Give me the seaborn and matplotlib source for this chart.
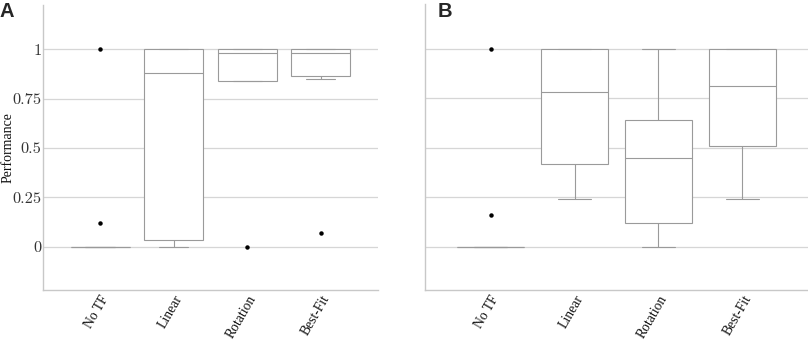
import numpy as np
import pandas as pd
import matplotlib
matplotlib.use("Agg")
import matplotlib.pyplot as plt
import seaborn as sns

# categories on the x axis
methods = ["No TF", "Linear", "Rotation", "Best-Fit"]

# panel A, per-method performance samples
a_notf = [0, 0, 0, 0, 0, 0, 0, 0.12, 1]
a_linear = [0, 0.02, 0.035, 0.5, 0.88, 0.95, 1, 1, 1]
a_rotation = [0, 0.84, 0.84, 0.9, 0.98, 1, 1, 1, 1]
a_bestfit = [0.07, 0.85, 0.865, 0.95, 0.98, 1, 1, 1, 1]

# panel B
b_notf = [0, 0, 0, 0, 0, 0, 0, 0.16, 1]
b_linear = [0.24, 0.3, 0.42, 0.6, 0.78, 0.9, 1, 1, 1]
b_rotation = [0, 0.05, 0.12, 0.3, 0.45, 0.55, 0.64, 0.8, 1]
b_bestfit = [0.24, 0.4, 0.51, 0.7, 0.81, 0.9, 1, 1, 1]

yticks = [0, 0.25, 0.5, 0.75, 1]
ytick_labels = ["0", "0.25", "0.5", "0.75", "1"]


def long_df(groups):
    rows = []
    for name, vals in zip(methods, groups):
        for v in vals:
            rows.append({"method": name, "perf": v})
    return pd.DataFrame(rows)


df_a = long_df([a_notf, a_linear, a_rotation, a_bestfit])
df_b = long_df([b_notf, b_linear, b_rotation, b_bestfit])

sns.set_style("white")
plt.rcParams["font.family"] = ["Liberation Serif", "DejaVu Serif"]

fig = plt.figure(figsize=(8.08, 3.4), dpi=100)
ax_a = fig.add_axes([0.053, 0.147, 0.415, 0.838])
ax_b = fig.add_axes([0.526, 0.147, 0.474, 0.84])

box_col = "#9a9a9a"
grid_col = "#d6d6d6"
spine_col = "#c8c8c8"

for ax, df in [(ax_a, df_a), (ax_b, df_b)]:
    sns.boxplot(data=df, x="method", y="perf", order=methods, ax=ax,
                color="white", linecolor=box_col, linewidth=0.8, width=0.8,
                flierprops=dict(marker="o", markersize=2.2,
                                markerfacecolor="black", markeredgecolor="black"),
                zorder=3)
    ax.set_ylim(-0.22, 1.225)
    ax.set_xlim(-0.78, 3.78)
    ax.set_yticks(yticks)
    ax.yaxis.grid(True, color=grid_col, linewidth=0.9, zorder=0)
    ax.set_axisbelow(True)
    ax.set_xlabel("")
    ax.set_ylabel("")
    for s in ["top", "right"]:
        ax.spines[s].set_visible(False)
    for s in ["left", "bottom"]:
        ax.spines[s].set_color(spine_col)
        ax.spines[s].set_linewidth(1.0)
    ax.tick_params(axis="both", length=0, pad=2)
    ax.tick_params(axis="y", pad=1)
    ax.set_xticks(range(len(methods)))
    ax.set_xticklabels(methods, rotation=60, ha="right", va="top",
                       rotation_mode="anchor", fontsize=9.8, color="#111111")

ax_a.set_yticklabels(ytick_labels, fontsize=11.8, family="cmr10", color="#333333")
ax_b.set_yticklabels([])
ax_a.set_ylabel("Performance", fontsize=10, color="#111111")
ax_a.yaxis.set_label_coords(-0.083, 0.5)

fig.text(0.0, 0.995, "A", fontsize=14.5, fontweight="bold",
         family="Liberation Sans", va="top", ha="left")
fig.text(0.542, 0.995, "B", fontsize=14.5, fontweight="bold",
         family="Liberation Sans", va="top", ha="left")

fig.savefig("out.png", dpi=100)
